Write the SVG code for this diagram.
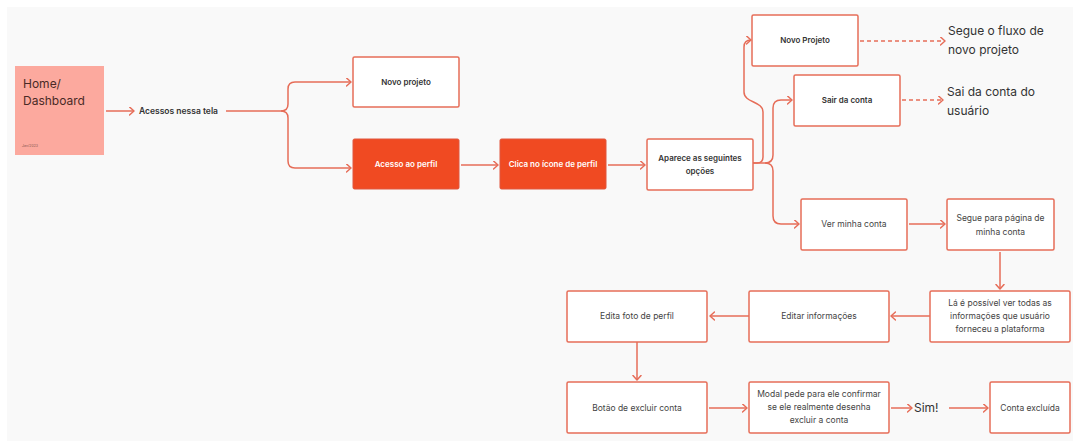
<svg xmlns="http://www.w3.org/2000/svg" width="1073" height="441" viewBox="0 0 1073 441">
<style>
  .box{fill:#ffffff;stroke:#e66d58;stroke-width:1.5}
  .hot{fill:#f04a22;stroke:#e0573f;stroke-width:1}
  .lb{font-family:Inter,"Liberation Sans",sans-serif;font-size:8px;font-weight:600;fill:#333333;text-anchor:middle}
  .lw{font-family:Inter,"Liberation Sans",sans-serif;font-size:8px;font-weight:600;fill:#ffffff;text-anchor:middle}
  .lr{font-family:Inter,"Liberation Sans",sans-serif;font-size:8.5px;font-weight:400;fill:#444444;text-anchor:middle}
  .big{font-family:Inter,"Liberation Sans",sans-serif;font-size:12px;font-weight:400;fill:#333333}
  .c{fill:none;stroke:#e66d58;stroke-width:1.5}
  .d{fill:none;stroke:#e66d58;stroke-width:1.5;stroke-dasharray:4 3}
</style>
<defs>
  <marker id="ah" markerUnits="userSpaceOnUse" markerWidth="10" markerHeight="10" refX="5" refY="4.5" orient="auto">
    <path d="M0.5,0.5 L5,4.5 L0.5,8.5" fill="none" stroke="#e66d58" stroke-width="1.5" stroke-linecap="round" stroke-linejoin="round"/>
  </marker>
</defs>
<rect x="0" y="0" width="1073" height="441" fill="#ffffff"/>
<rect x="7" y="7" width="1066" height="434" fill="#f9f9f9"/>

<g id="connectors">
  <path class="c" d="M106,111 H134" marker-end="url(#ah)"/>
  <path class="c" d="M226,111 H281 Q288,111 288,104 V89 Q288,82 295,82 H351" marker-end="url(#ah)"/>
  <path class="c" d="M281,111 Q288,111 288,118 V161 Q288,168 295,168 H351" marker-end="url(#ah)"/>
  <path class="c" d="M461,165 H498" marker-end="url(#ah)"/>
  <path class="c" d="M608,165 H645" marker-end="url(#ah)"/>
  <path class="c" d="M753,163 H757 Q763,163 763,157 V112 C763,101 744,103 744,92 V47 Q744,40 751,40" marker-end="url(#ah)"/>
  <path class="c" d="M753,163 H765 Q773,163 773,155 V108 Q773,100 781,100 H792" marker-end="url(#ah)"/>
  <path class="c" d="M765,163 Q773,163 773,171 V216 Q773,224 781,224 H799" marker-end="url(#ah)"/>
  <path class="d" d="M860,41 H945" marker-end="url(#ah)"/>
  <path class="d" d="M902,100 H943" marker-end="url(#ah)"/>
  <path class="c" d="M909,224 H945" marker-end="url(#ah)"/>
  <path class="c" d="M1000,252 V289" marker-end="url(#ah)"/>
  <path class="c" d="M930,316 H891" marker-end="url(#ah)"/>
  <path class="c" d="M749,316 H710" marker-end="url(#ah)"/>
  <path class="c" d="M637,342 V380" marker-end="url(#ah)"/>
  <path class="c" d="M709,408 H747" marker-end="url(#ah)"/>
  <path class="c" d="M891,408 H912" marker-end="url(#ah)"/>
  <path class="c" d="M949,408 H988" marker-end="url(#ah)"/>
</g>

<g id="home">
  <rect x="15" y="66" width="89" height="89" fill="#fca99e"/>
  <text class="big" x="23" y="88" fill="#4a2a26" style="fill:#4a2a26">Home/</text>
  <text class="big" x="23" y="105" style="fill:#4a2a26">Dashboard</text>
  <text x="22" y="147" font-family="Inter,'Liberation Sans',sans-serif" font-size="3.5" fill="#8a5a52">Jan/2023</text>
</g>
<g id="acessos">
  <text x="139" y="114" font-family="Inter,'Liberation Sans',sans-serif" font-size="8.5" font-weight="600" fill="#333333">Acessos nessa tela</text>
</g>
<g id="novo-projeto">
  <rect class="box" x="353" y="57" width="106" height="50" rx="1.5"/>
  <text class="lb" x="406" y="85">Novo projeto</text>
</g>
<g id="acesso-perfil">
  <rect class="hot" x="353" y="139" width="106" height="50" rx="1.5"/>
  <text class="lw" x="406" y="167">Acesso ao perfil</text>
</g>
<g id="clica-icone">
  <rect class="hot" x="500" y="139" width="106" height="50" rx="1.5"/>
  <text class="lw" x="553" y="167">Clica no ícone de perfil</text>
</g>
<g id="aparece">
  <rect class="box" x="647" y="139" width="106" height="51" rx="1.5"/>
  <text class="lb" x="700" y="161">Aparece as seguintes</text>
  <text class="lb" x="700" y="174">opções</text>
</g>
<g id="novo-projeto-2">
  <rect class="box" x="752" y="15" width="106" height="51" rx="1.5"/>
  <text class="lb" x="805" y="43">Novo Projeto</text>
</g>
<g id="sair-conta">
  <rect class="box" x="794" y="75" width="106" height="51" rx="1.5"/>
  <text class="lb" x="847" y="103">Sair da conta</text>
</g>
<g id="segue-fluxo">
  <text class="big" x="948" y="35">Segue o fluxo de</text>
  <text class="big" x="948" y="54">novo projeto</text>
</g>
<g id="sai-conta">
  <text class="big" x="947" y="96">Sai da conta do</text>
  <text class="big" x="947" y="115">usuário</text>
</g>
<g id="ver-conta">
  <rect class="box" x="801" y="199" width="106" height="51" rx="1.5"/>
  <text class="lr" x="854" y="227">Ver minha conta</text>
</g>
<g id="segue-pagina">
  <rect class="box" x="947" y="199" width="107" height="51" rx="1.5"/>
  <text class="lr" x="1000.5" y="221">Segue para página de</text>
  <text class="lr" x="1000.5" y="235">minha conta</text>
</g>
<g id="la-possivel">
  <rect class="box" x="930" y="291" width="140" height="51" rx="1.5"/>
  <text class="lr" x="1000" y="306">Lá é possível ver todas as</text>
  <text class="lr" x="1000" y="319">informações que usuário</text>
  <text class="lr" x="1000" y="332">forneceu a plataforma</text>
</g>
<g id="editar-info">
  <rect class="box" x="749" y="291" width="140" height="51" rx="1.5"/>
  <text class="lr" x="819" y="319">Editar informações</text>
</g>
<g id="edita-foto">
  <rect class="box" x="567" y="291" width="140" height="51" rx="1.5"/>
  <text class="lr" x="637" y="319">Edita foto de perfil</text>
</g>
<g id="botao-excluir">
  <rect class="box" x="567" y="382" width="140" height="51" rx="1.5"/>
  <text class="lr" x="637" y="411">Botão de excluir conta</text>
</g>
<g id="modal">
  <rect class="box" x="749" y="382" width="140" height="51" rx="1.5"/>
  <text class="lr" x="819" y="397">Modal pede para ele confirmar</text>
  <text class="lr" x="819" y="410">se ele realmente desenha</text>
  <text class="lr" x="819" y="423">excluir a conta</text>
</g>
<g id="sim">
  <text class="big" x="914" y="412">Sim!</text>
</g>
<g id="conta-excluida">
  <rect class="box" x="990" y="382" width="80" height="51" rx="1.5"/>
  <text class="lr" x="1030" y="411">Conta excluída</text>
</g>
</svg>
